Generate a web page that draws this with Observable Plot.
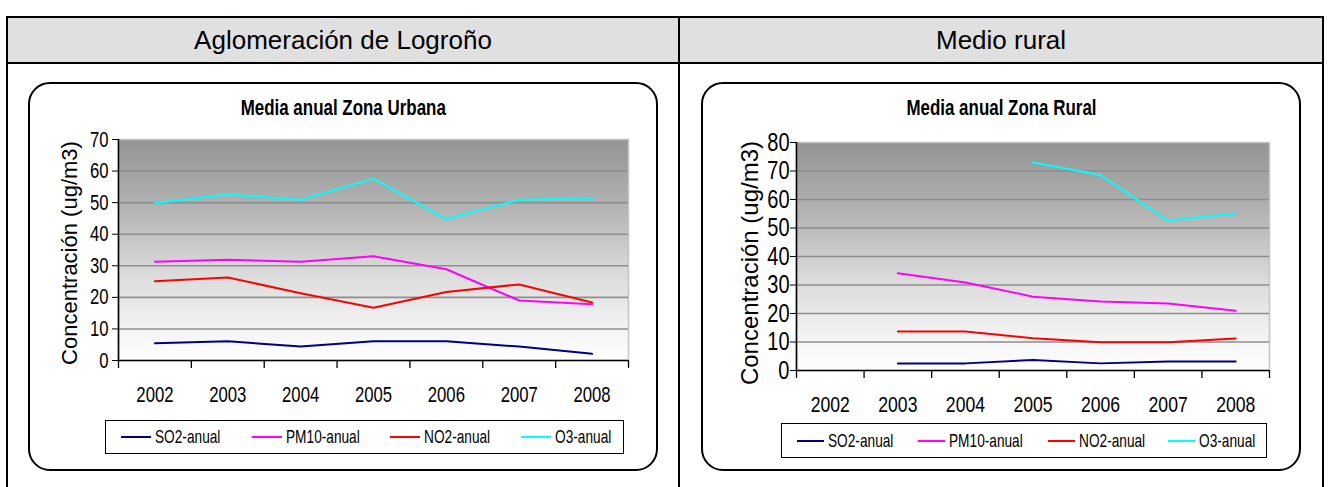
<!DOCTYPE html>
<html>
<head>
<meta charset="utf-8">
<script src="https://cdn.jsdelivr.net/npm/d3@7"></script>
<script src="https://cdn.jsdelivr.net/npm/@observablehq/plot@0.6"></script>
<style>
  html, body { margin: 0; padding: 0; background: #fff; }
  body { width: 1328px; height: 487px; position: relative; overflow: hidden; font-family: "Liberation Sans", Arial, sans-serif; }
  .abs { position: absolute; box-sizing: border-box; }
  .hdr { background: #e0e0e0; }
  .hdrtxt { font-size: 26px; color: #000; text-align: center; line-height: 1; }
  .box { border: 2px solid #000; border-radius: 22px; background: #fff; }
  .ctitle { font-weight: bold; font-size: 22px; text-align: center; line-height: 1; }
  .ctitle .narrowC { transform: scaleX(0.77); }
  .narrowC { display: inline-block; transform-origin: center; white-space: nowrap; }
  .narrowL { display: inline-block; transform: scaleX(0.72); transform-origin: left center; white-space: nowrap; }
  .ylab { white-space: nowrap; transform: translate(-50%, -50%) rotate(-90deg); line-height: 1; }
  .legend { border: 1.5px solid #000; background: #fff; font-size: 19px; }
  .litem { position: absolute; top: 0; bottom: 0; display: flex; align-items: center; white-space: nowrap; }
  .litem span.sw { display: inline-block; height: 2px; margin-right: 4px; flex: none; }
  .plotwrap svg { display: block; overflow: visible; }
</style>
</head>
<body>
<script>
// ---------------- data ----------------
const years = [2002, 2003, 2004, 2005, 2006, 2007, 2008];
const seriesNames = ["SO2-anual", "PM10-anual", "NO2-anual", "O3-anual"];
const seriesColors = ["#000080", "#ff00ff", "#ff0000", "#00ffff"];

const urbanSO2  = [5.5, 6.1, 4.4, 6.1, 6.1, 4.4, 2.1];
const urbanPM10 = [31.3, 31.9, 31.3, 33.0, 28.9, 19.0, 17.8];
const urbanNO2  = [25.1, 26.3, 21.3, 16.7, 21.7, 24.1, 18.4];
const urbanO3   = [49.9, 52.6, 50.9, 57.6, 44.8, 50.9, 51.4];

const ruralSO2  = [null, 2.5, 2.5, 3.7, 2.5, 3.2, 3.2];
const ruralPM10 = [null, 34.1, 30.9, 25.9, 24.2, 23.5, 21.0];
const ruralNO2  = [null, 13.7, 13.7, 11.3, 9.9, 9.9, 11.2];
const ruralO3   = [null, null, null, 73.0, 68.6, 52.6, 55.1];

const urbanTicksY = [0, 10, 20, 30, 40, 50, 60, 70];
const ruralTicksY = [0, 10, 20, 30, 40, 50, 60, 70, 80];

const headerLeft = "Aglomeración de Logroño";
const headerRight = "Medio rural";
const titleUrban = "Media anual Zona Urbana";
const titleRural = "Media anual Zona Rural";
const yLabel = "Concentración (ug/m3)";

// ---------------- layout helpers ----------------
function el(cls, style, text) {
  const d = document.createElement("div");
  d.className = "abs " + cls;
  Object.assign(d.style, style);
  if (text != null) d.textContent = text;
  document.body.appendChild(d);
  return d;
}
function narrowText(parent, text, cls) {
  const s = document.createElement("span");
  s.className = cls;
  s.textContent = text;
  parent.appendChild(s);
  return s;
}

// table frame
el("hdr", {left: "7px", top: "17px", width: "1316px", height: "46px"});
el("", {left: "7px", top: "16px", width: "1317px", height: "2px", background: "#000"});
el("", {left: "7px", top: "62px", width: "1317px", height: "2px", background: "#000"});
el("", {left: "6px", top: "16px", width: "2px", height: "480px", background: "#000"});
el("", {left: "678px", top: "16px", width: "2px", height: "480px", background: "#000"});
el("", {left: "1322px", top: "16px", width: "2px", height: "480px", background: "#000"});
el("hdrtxt", {left: "8px", width: "670px", top: "27px"}, headerLeft);
el("hdrtxt", {left: "680px", width: "642px", top: "27px"}, headerRight);

// rounded boxes
el("box", {left: "28px", top: "82px", width: "630px", height: "389px"});
el("box", {left: "701px", top: "82px", width: "600px", height: "389px"});

narrowText(el("ctitle", {left: "28px", width: "630px", top: "97px"}), titleUrban, "narrowC");
narrowText(el("ctitle", {left: "701px", width: "600px", top: "97px"}), titleRural, "narrowC");

el("ylab", {left: "70px", top: "253px", fontSize: "22px"}, yLabel);
el("ylab", {left: "750px", top: "263px", fontSize: "24px"}, yLabel);

function legend(box, starts, lineLen) {
  const lg = el("legend", box);
  seriesNames.forEach((n, i) => {
    const it = document.createElement("div");
    it.className = "litem";
    it.style.left = starts[i] + "px";
    const sw = document.createElement("span");
    sw.className = "sw";
    sw.style.width = lineLen + "px";
    sw.style.background = seriesColors[i];
    it.appendChild(sw);
    narrowText(it, n, "narrowL");
    lg.appendChild(it);
  });
}
legend({left: "105px", top: "420px", width: "519px", height: "34px"}, [15, 146, 284, 415], 30);
legend({left: "781px", top: "423px", width: "486px", height: "35px"}, [15, 136, 266, 386], 27);

// ---------------- charts ----------------
function condense(svg, k) {
  svg.querySelectorAll('g[aria-label$="tick label"] text').forEach(t => {
    const tr = t.getAttribute("transform");
    if (tr) {
      t.setAttribute("transform", tr + ` scale(${k},1)`);
    } else {
      const x = +t.getAttribute("x") || 0, y = +t.getAttribute("y") || 0;
      t.setAttribute("transform", `translate(${x},${y}) scale(${k},1) translate(${-x},${-y})`);
    }
  });
}

function makeChart(cfg) {
  const rows = [];
  cfg.series.forEach((vals, s) => vals.forEach((v, i) => {
    if (v != null) rows.push({year: years[i], value: v, name: seriesNames[s]});
  }));
  const bounds = [...years.map(y => y - 0.5), years[years.length - 1] + 0.5];
  const ticksY = cfg.ticksY;
  const yMax = ticksY[ticksY.length - 1];
  const font = "'Liberation Sans', Arial, sans-serif";
  const svg = Plot.plot({
    width: cfg.width, height: cfg.height,
    marginLeft: cfg.ml, marginRight: cfg.mr, marginTop: cfg.mt, marginBottom: cfg.mb,
    x: {domain: [bounds[0], bounds[bounds.length - 1]], axis: null},
    y: {domain: [0, yMax], axis: null},
    color: {domain: seriesNames, range: seriesColors},
    style: {background: "transparent", color: "#000", fontFamily: font, overflow: "visible"},
    marks: [
      Plot.frame({fill: `url(#${cfg.id})`, stroke: "#c4c4c4", strokeWidth: 1.5}),
      Plot.gridY(ticksY.slice(1, -1), {stroke: "#8e8e8e", strokeOpacity: 1, strokeWidth: 1.6}),
      Plot.axisY({ticks: ticksY, tickSize: 6, tickPadding: cfg.ytp, tickFormat: d => String(d), label: null, fontSize: cfg.yfs}),
      Plot.axisX({ticks: bounds, tickSize: 8, tickFormat: () => "", label: null, strokeWidth: 1.3}),
      Plot.axisX({ticks: years, tickSize: 0, tickPadding: 26, tickFormat: d => String(d), label: null, fontSize: 22}),
      Plot.ruleY([0], {stroke: "#000", strokeWidth: 1.6}),
      Plot.ruleX([bounds[0]], {stroke: "#000", strokeWidth: 1.6}),
      Plot.lineY(rows, {x: "year", y: "value", z: "name", stroke: "name", strokeWidth: 2})
    ]
  });
  condense(svg, cfg.k);
  const ns = "http://www.w3.org/2000/svg";
  const defs = document.createElementNS(ns, "defs");
  const g = document.createElementNS(ns, "linearGradient");
  g.setAttribute("id", cfg.id);
  g.setAttribute("x1", "0"); g.setAttribute("y1", "0"); g.setAttribute("x2", "0"); g.setAttribute("y2", "1");
  [[0, "#949494"], [0.3, "#b2b2b2"], [0.6, "#dadada"], [0.85, "#f3f3f3"], [1, "#ffffff"]].forEach(([o, c]) => {
    const s = document.createElementNS(ns, "stop");
    s.setAttribute("offset", o); s.setAttribute("stop-color", c);
    g.appendChild(s);
  });
  defs.appendChild(g);
  svg.insertBefore(defs, svg.firstChild);
  const wrap = el("plotwrap", {left: cfg.left + "px", top: cfg.top + "px"});
  wrap.appendChild(svg);
}

makeChart({id: "gradU", series: [urbanSO2, urbanPM10, urbanNO2, urbanO3], ticksY: urbanTicksY,
  left: 30, top: 125, width: 620, height: 290, ml: 88, mr: 22, mt: 14, mb: 55, yfs: 22, ytp: 4, k: 0.76});
makeChart({id: "gradR", series: [ruralSO2, ruralPM10, ruralNO2, ruralO3], ticksY: ruralTicksY,
  left: 705, top: 125, width: 590, height: 300, ml: 91, mr: 26, mt: 17, mb: 55, yfs: 25, ytp: 1, k: 0.8});
</script>
</body>
</html>
